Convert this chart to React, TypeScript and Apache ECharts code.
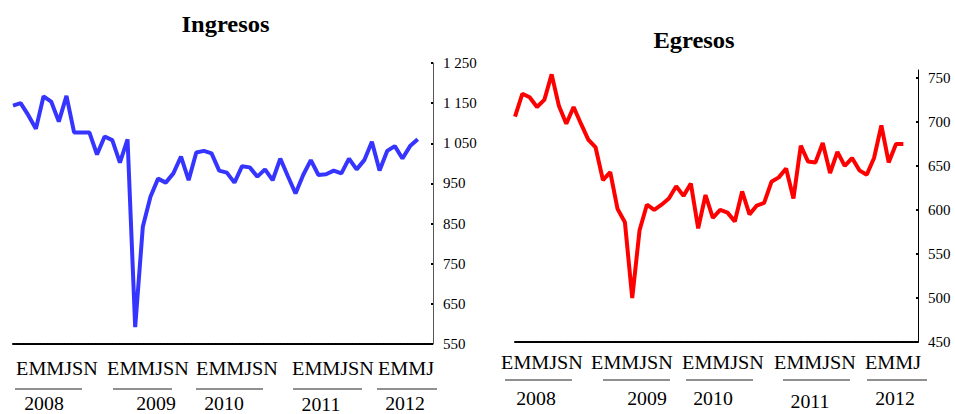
import React, { useEffect, useRef } from "react";
import * as echarts from "echarts";

// ---- data ----
const YEARS = ["2008", "2009", "2010", "2011", "2012"];
const MONTH_LETTERS = ["E", "F", "M", "A", "M", "J", "J", "A", "S", "O", "N", "D"];
const GROUP_LABELS = ["EMMJSN", "EMMJSN", "EMMJSN", "EMMJSN", "EMMJ"];
// axis runs Jan 2008 .. Aug 2012 ; data Jan 2008 .. Jun 2012
const AXIS_MONTHS_2012 = 8;

const INGRESOS = [
  1144, 1150, 1120, 1086, 1167, 1154, 1104, 1168, 1077, 1077, 1077, 1022,
  1067, 1058, 1002, 1060, 592, 842, 917, 962, 952, 975, 1017, 958,
  1027, 1031, 1025, 982, 977, 952, 993, 990, 967, 985, 958, 1012,
  968, 925, 971, 1008, 971, 973, 982, 975, 1012, 985, 1008, 1054,
  982, 1031, 1043, 1012, 1043, 1060,
];

const EGRESOS = [
  706, 732, 728, 717, 725, 754, 718, 698, 717, 698, 680, 671,
  634, 643, 601, 586, 500, 577, 606, 600, 606, 613, 627, 616,
  630, 579, 617, 591, 600, 597, 587, 621, 595, 605, 608, 632,
  637, 647, 613, 673, 655, 654, 676, 642, 666, 650, 659, 645,
  640, 659, 696, 654, 675, 675,
];

const LEFT_TICKS = [550, 650, 750, 850, 950, 1050, 1150, 1250];
const RIGHT_TICKS = [450, 500, 550, 600, 650, 700, 750];

const CATEGORIES: string[] = [];
YEARS.forEach((y, yi) => {
  const n = yi === YEARS.length - 1 ? AXIS_MONTHS_2012 : 12;
  for (let m = 0; m < n; m++) CATEGORIES.push(MONTH_LETTERS[m] + " " + y);
});

// ---- layout (pixels) ----
const SERIF = "'Liberation Serif', 'Times New Roman', serif";

const LEFT_LAYOUT = {
  titleX: 225.5,
  titleY: 24,
  groupX: [57, 148, 237, 333, 406],
  groupY: 369,
  lines: [
    [15, 82],
    [113, 172],
    [196, 263],
    [293, 362],
    [377, 437],
  ],
  lineY: 389,
  yearX: [44, 156, 224, 321, 405],
  yearY: [404, 404, 404, 405, 404],
};

const RIGHT_LAYOUT = {
  titleX: 694,
  titleY: 40,
  groupX: [542, 632, 723, 815, 893],
  groupY: 363,
  lines: [
    [505, 572],
    [603, 670],
    [686, 753],
    [783, 850],
    [867, 927],
  ],
  lineY: 380,
  yearX: [536, 647, 713, 810, 895],
  yearY: [398.5, 398.5, 398.5, 402, 398.5],
};

function fmtThousands(v: number): string {
  if (v >= 1000) {
    const th = Math.floor(v / 1000);
    const rest = String(v % 1000).padStart(3, "0");
    return th + " " + rest;
  }
  return String(v);
}

function buildAnnotations(layout: typeof LEFT_LAYOUT, title: string) {
  const els: any[] = [];
  els.push({
    type: "text",
    x: layout.titleX,
    y: layout.titleY,
    scaleX: 1.08,
    style: {
      text: title,
      fontFamily: SERIF,
      fontWeight: "bold",
      fontSize: 22.7,
      fill: "#000",
      align: "center",
      verticalAlign: "middle",
    },
  });
  GROUP_LABELS.forEach((lab, i) => {
    els.push({
      type: "text",
      x: layout.groupX[i],
      y: layout.groupY,
      scaleX: 1.12,
      style: {
        text: lab,
        fontFamily: SERIF,
        fontSize: 18,
        fill: "#000",
        align: "center",
        verticalAlign: "middle",
      },
    });
    els.push({
      type: "line",
      shape: {
        x1: layout.lines[i][0],
        y1: layout.lineY,
        x2: layout.lines[i][1],
        y2: layout.lineY,
      },
      style: { stroke: "#222", lineWidth: 1 },
    });
    els.push({
      type: "text",
      x: layout.yearX[i],
      y: layout.yearY[i],
      scaleX: 1.1,
      style: {
        text: YEARS[i],
        fontFamily: SERIF,
        fontSize: 18,
        fill: "#000",
        align: "center",
        verticalAlign: "middle",
      },
    });
  });
  return els;
}

export default function App() {
  const ref = useRef<HTMLDivElement>(null);

  useEffect(() => {
    if (!ref.current) return;
    const chart = echarts.init(ref.current, undefined, { renderer: "svg" });

    const xAxisCommon = {
      type: "category" as const,
      data: CATEGORIES,
      boundaryGap: false,
      axisLine: {
        show: true,
        lineStyle: { color: "#000", width: 2, type: [2, 1] as any },
      },
      axisTick: { show: false },
      axisLabel: { show: false },
      splitLine: { show: false },
    };

    const yLabel = {
      color: "#000",
      fontFamily: SERIF,
      fontSize: 15,
      margin: 10,
    };

    chart.setOption({
      animation: false,
      backgroundColor: "#fff",
      grid: [
        { left: 13, right: 955 - 433, top: 63, bottom: 414 - 344, containLabel: false },
        { left: 515, right: 955 - 918, top: 70, bottom: 414 - 342, containLabel: false },
      ],
      xAxis: [
        { ...xAxisCommon, gridIndex: 0 },
        { ...xAxisCommon, gridIndex: 1 },
      ],
      yAxis: [
        {
          type: "value",
          gridIndex: 0,
          position: "right",
          min: 550,
          max: 1250,
          interval: 100,
          axisLine: { show: true, lineStyle: { color: "#555", width: 1 } },
          axisTick: {
            show: true,
            inside: true,
            length: 2,
            lineStyle: { color: "#000", width: 2 },
            customValues: LEFT_TICKS,
          },
          axisLabel: {
            ...yLabel,
            formatter: (v: number) => fmtThousands(v),
            customValues: LEFT_TICKS,
          },
          splitLine: { show: false },
        },
        {
          type: "value",
          gridIndex: 1,
          position: "right",
          min: 450,
          max: 759,
          interval: 50,
          axisLine: { show: true, lineStyle: { color: "#000", width: 1 } },
          axisTick: {
            show: true,
            inside: true,
            length: 2,
            lineStyle: { color: "#000", width: 2 },
            customValues: RIGHT_TICKS,
          },
          axisLabel: {
            ...yLabel,
            customValues: RIGHT_TICKS,
          },
          splitLine: { show: false },
        },
      ],
      series: [
        {
          name: "Ingresos",
          type: "line",
          xAxisIndex: 0,
          yAxisIndex: 0,
          data: INGRESOS,
          symbol: "none",
          lineStyle: { color: "#3535ff", width: 4 },
          itemStyle: { color: "#3535ff" },
        },
        {
          name: "Egresos",
          type: "line",
          xAxisIndex: 1,
          yAxisIndex: 1,
          data: EGRESOS,
          symbol: "none",
          lineStyle: { color: "#ff0000", width: 4 },
          itemStyle: { color: "#ff0000" },
        },
      ],
      graphic: [
        ...buildAnnotations(LEFT_LAYOUT, "Ingresos"),
        ...buildAnnotations(RIGHT_LAYOUT, "Egresos"),
      ],
    });

    return () => {
      chart.dispose();
    };
  }, []);

  return (
    <div
      ref={ref}
      style={{ position: "absolute", left: 0, top: 0, width: 955, height: 414 }}
    />
  );
}
